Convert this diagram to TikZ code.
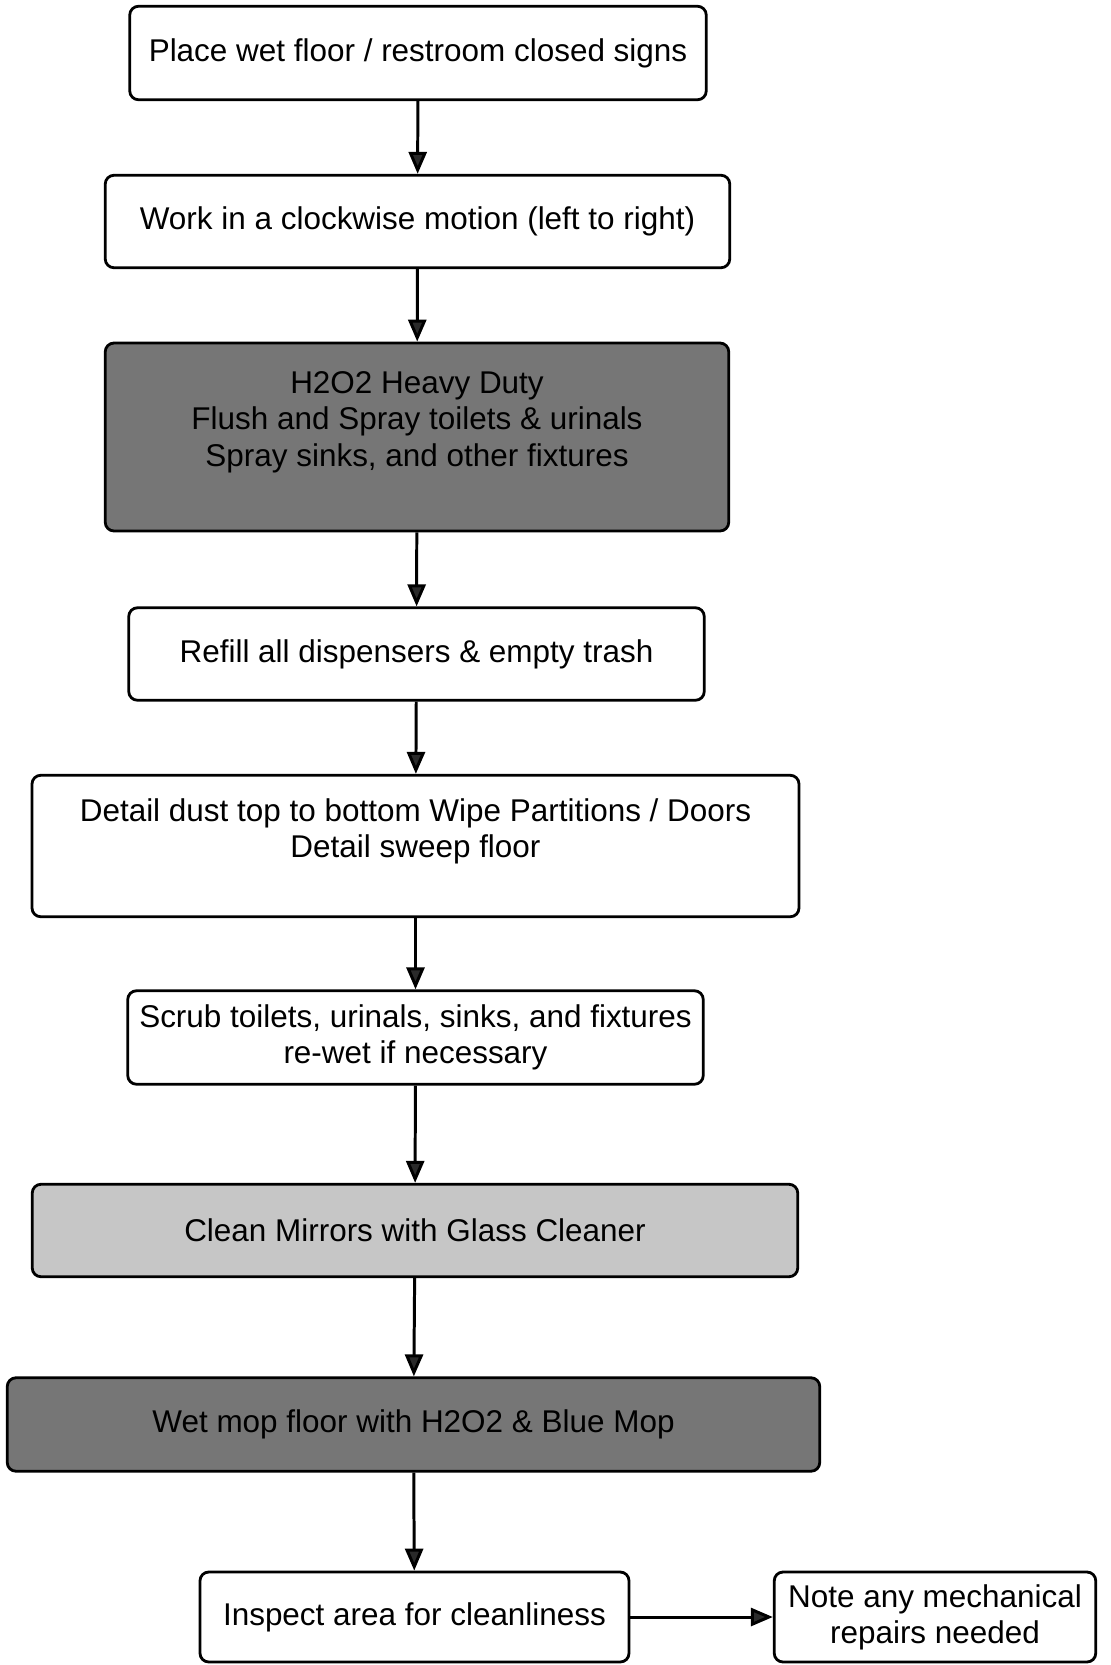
\documentclass[tikz,border=0pt]{standalone}
\usepackage{fontspec}
\setmainfont{Liberation Sans}
\usepackage{xcolor}
\usetikzlibrary{arrows.meta, positioning}
\definecolor{shadedark}{HTML}{767676}
\definecolor{shadelight}{HTML}{C6C6C6}
\definecolor{tipgray}{HTML}{2A2A2A}

\begin{document}
\begin{tikzpicture}[
  stepbox/.style={rectangle, draw=black, line width=1.6pt, rounded corners=5pt, fill=white, align=center, font=\fontsize{17.9}{20.5}\selectfont, inner sep=0pt},
  darkbox/.style={stepbox, fill=shadedark},
  lightbox/.style={stepbox, fill=shadelight},
  arrow/.style={-{Triangle[length=4.4mm, width=3.6mm, fill=tipgray]}, draw=black, line width=1.7pt}
]
  \useasboundingbox (0,0) rectangle (22.22,-33.3);

  % Steps
  \node[stepbox, minimum width=11.53cm, minimum height=1.87cm] (signs) at (8.36, -1.06) {Place wet floor / restroom closed signs};
  \node[stepbox, minimum width=12.49cm, minimum height=1.85cm] (motion) at (8.35, -4.43) {Work in a clockwise motion (left to right)};
  \node[darkbox, minimum width=12.47cm, minimum height=3.76cm] (spray) at (8.34, -8.74) {H2O2 Heavy Duty\\Flush and Spray toilets \& urinals\\Spray sinks, and other fixtures\\ \mbox{}};
  \node[stepbox, minimum width=11.51cm, minimum height=1.85cm] (refill) at (8.33, -13.08) {Refill all dispensers \& empty trash};
  \node[stepbox, minimum width=15.34cm, minimum height=2.83cm] (dust) at (8.31, -16.92) {Detail dust top to bottom Wipe Partitions / Doors\\Detail sweep floor\\ \mbox{}};
  \node[stepbox, minimum width=11.51cm, minimum height=1.87cm] (scrub) at (8.31, -20.75) {Scrub toilets, urinals, sinks, and fixtures\\re-wet if necessary};
  \node[lightbox, minimum width=15.31cm, minimum height=1.85cm] (mirror) at (8.30, -24.61) {Clean Mirrors with Glass Cleaner};
  \node[darkbox, minimum width=16.25cm, minimum height=1.87cm] (mop) at (8.27, -28.49) {Wet mop floor with H2O2 \& Blue Mop};
  \node[stepbox, minimum width=8.58cm, minimum height=1.80cm] (inspect) at (8.29, -32.34) {Inspect area for cleanliness};
  \node[stepbox, minimum width=6.43cm, minimum height=1.80cm] (repair) at (18.70, -32.34) {Note any mechanical\\repairs needed};

  % Connections
  \draw[arrow] (signs) -- (motion);
  \draw[arrow] (motion) -- (spray);
  \draw[arrow] (spray) -- (refill);
  \draw[arrow] (refill) -- (dust);
  \draw[arrow] (dust) -- (scrub);
  \draw[arrow] (scrub) -- (mirror);
  \draw[arrow] (mirror) -- (mop);
  \draw[arrow] (mop) -- (inspect);
  \draw[arrow] (inspect) -- (repair);
\end{tikzpicture}
\end{document}
